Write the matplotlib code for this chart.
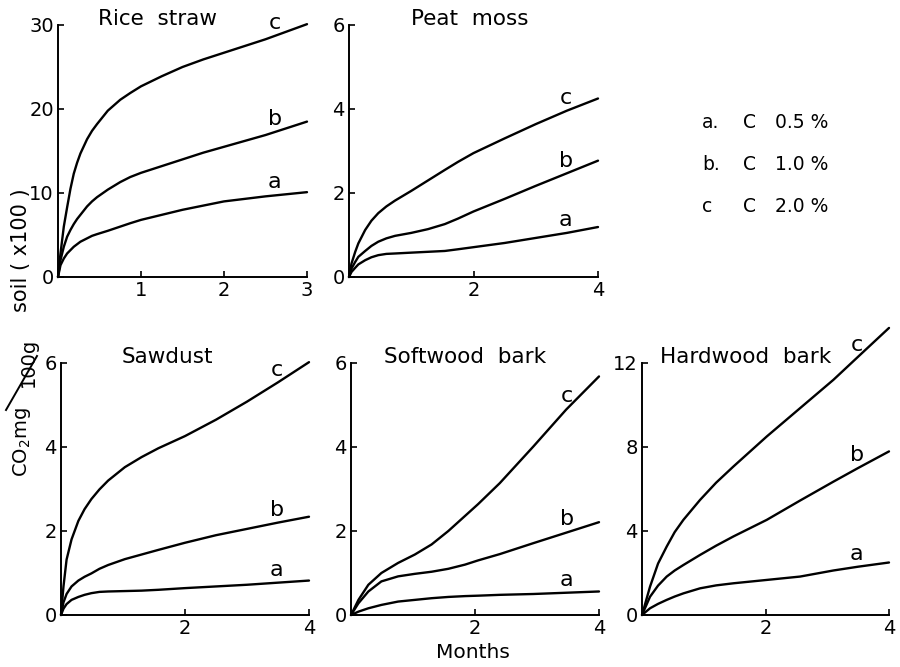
import numpy as np
import matplotlib
matplotlib.use("Agg")
import matplotlib.pyplot as plt
from matplotlib.lines import Line2D

plt.rcParams['font.family'] = ['DejaVu Sans']

# ---------------- data ----------------
rice_x = [0, 0.03, 0.07, 0.11, 0.15, 0.19, 0.23, 0.27, 0.35, 0.41, 0.47, 0.6, 0.75, 0.87, 1.0, 1.25, 1.5, 1.75, 2.0, 2.5, 3.0]
rice_c = [0, 2.8, 6.0, 8.3, 10.5, 12.3, 13.6, 14.7, 16.4, 17.4, 18.2, 19.8, 21.1, 21.9, 22.7, 23.9, 25.0, 25.9, 26.7, 28.3, 30.1]
rice_b = [0, 2.0, 3.6, 4.8, 5.6, 6.3, 6.9, 7.4, 8.4, 9.0, 9.5, 10.4, 11.3, 11.9, 12.4, 13.2, 14.0, 14.8, 15.5, 16.9, 18.5]
rice_a = [0, 1.4, 2.2, 2.8, 3.2, 3.6, 3.9, 4.2, 4.6, 4.9, 5.1, 5.5, 6.0, 6.4, 6.8, 7.4, 8.0, 8.5, 9.0, 9.6, 10.1]

peat_x = [0, 0.04, 0.1, 0.15, 0.26, 0.36, 0.47, 0.6, 0.74, 1.0, 1.27, 1.54, 1.75, 2.0, 2.5, 3.0, 3.5, 4.0]
peat_c = [0, 0.32, 0.6, 0.8, 1.12, 1.34, 1.52, 1.68, 1.82, 2.05, 2.3, 2.55, 2.74, 2.95, 3.3, 3.64, 3.96, 4.25]
peat_b = [0, 0.2, 0.36, 0.48, 0.62, 0.74, 0.84, 0.92, 0.98, 1.05, 1.14, 1.26, 1.39, 1.56, 1.86, 2.17, 2.47, 2.77]
peat_a = [0, 0.12, 0.22, 0.3, 0.4, 0.47, 0.52, 0.55, 0.56, 0.58, 0.6, 0.62, 0.66, 0.71, 0.81, 0.93, 1.05, 1.19]

saw_x = [0, 0.04, 0.09, 0.17, 0.28, 0.38, 0.49, 0.62, 0.76, 1.03, 1.3, 1.57, 2.0, 2.5, 3.0, 3.5, 4.0]
saw_c = [0, 0.68, 1.32, 1.8, 2.24, 2.52, 2.76, 2.99, 3.2, 3.52, 3.76, 3.97, 4.26, 4.65, 5.08, 5.54, 6.02]
saw_b = [0, 0.3, 0.5, 0.68, 0.82, 0.91, 0.99, 1.1, 1.19, 1.33, 1.44, 1.55, 1.72, 1.9, 2.05, 2.2, 2.34]
saw_a = [0, 0.15, 0.26, 0.36, 0.43, 0.48, 0.52, 0.55, 0.56, 0.57, 0.58, 0.6, 0.64, 0.68, 0.72, 0.77, 0.82]

soft_x = [0, 0.12, 0.28, 0.49, 0.76, 1.03, 1.3, 1.57, 1.84, 2.05, 2.4, 2.94, 3.47, 4.0]
soft_c = [0, 0.36, 0.72, 1.0, 1.24, 1.44, 1.68, 2.0, 2.36, 2.64, 3.14, 4.01, 4.89, 5.68]
soft_b = [0, 0.28, 0.56, 0.8, 0.92, 0.98, 1.03, 1.1, 1.2, 1.3, 1.45, 1.71, 1.96, 2.21]
soft_a = [0, 0.08, 0.16, 0.24, 0.32, 0.36, 0.4, 0.43, 0.45, 0.46, 0.48, 0.5, 0.53, 0.56]

hard_x = [0, 0.13, 0.26, 0.4, 0.53, 0.67, 0.94, 1.2, 1.48, 2.02, 2.56, 3.1, 3.5, 4.0]
hard_c = [0, 1.35, 2.45, 3.26, 3.95, 4.53, 5.48, 6.3, 7.07, 8.5, 9.85, 11.2, 12.3, 13.67]
hard_b = [0, 0.87, 1.4, 1.83, 2.12, 2.38, 2.86, 3.3, 3.74, 4.53, 5.45, 6.35, 7.0, 7.79]
hard_a = [0, 0.32, 0.53, 0.72, 0.88, 1.03, 1.27, 1.41, 1.51, 1.67, 1.83, 2.12, 2.3, 2.5]

titles = ["Rice  straw", "Peat  moss", "Sawdust", "Softwood  bark", "Hardwood  bark"]
xticks = [[1, 2, 3], [2, 4], [2, 4], [2, 4], [2, 4]]
yticks = [[0, 10, 20, 30], [0, 2, 4, 6], [0, 2, 4, 6], [0, 2, 4, 6], [0, 4, 8, 12]]
xmax = [3, 4, 4, 4, 4]
series_names = ["a", "b", "c"]
legend_letters = ["a.", "b.", "c"]
legend_values = ["0.5 %", "1.0 %", "2.0 %"]

panels = [
    (rice_x, [rice_a, rice_b, rice_c]),
    (peat_x, [peat_a, peat_b, peat_c]),
    (saw_x, [saw_a, saw_b, saw_c]),
    (soft_x, [soft_a, soft_b, soft_c]),
    (hard_x, [hard_a, hard_b, hard_c]),
]

# ---------------- layout ----------------
W, H = 900, 667
fig = plt.figure(figsize=(9, 6.67), dpi=100)

def px_rect(left, right, top, bottom):
    return [left / W, 1 - bottom / H, (right - left) / W, (bottom - top) / H]

rects = [
    px_rect(58, 307, 25, 277),
    px_rect(349, 598, 25, 277),
    px_rect(61, 309, 363, 615),
    px_rect(351, 599, 363, 615),
    px_rect(642, 889, 363, 615),
]
title_xfrac = [0.40, 0.486, 0.427, 0.46, 0.42]
label_xfrac = 0.87  # where the a/b/c letters sit, as fraction of x range

FS = 14
LW = 1.7

for i, (rect, (xs, ys)) in enumerate(zip(rects, panels)):
    ax = fig.add_axes(rect)
    ax.set_xlim(0, xmax[i])
    ax.set_ylim(0, yticks[i][-1])
    for s in ["top", "right"]:
        ax.spines[s].set_visible(False)
    for s in ["left", "bottom"]:
        ax.spines[s].set_linewidth(1.4)
    ax.set_xticks(xticks[i])
    ax.set_yticks(yticks[i])
    ax.tick_params(direction="in", length=4, width=1.2, labelsize=FS, pad=3)
    for name, yv in zip(series_names, ys):
        ax.plot(xs, yv, color="black", lw=LW, clip_on=False,
                solid_joinstyle="round", solid_capstyle="round")
        lx = label_xfrac * xmax[i]
        ly = np.interp(lx, xs, yv)
        ax.annotate(name, (lx, ly), xytext=(0, 9.5), textcoords="offset points",
                    ha="center", va="center", fontsize=FS + 2,
                    annotation_clip=False)
    ax.text(title_xfrac[i], 1.0, titles[i], transform=ax.transAxes,
            ha="center", va="baseline", fontsize=FS + 1.5)

# ---------------- y label pieces ----------------
def fx(px):
    return px / W

def fy(py):
    return 1 - py / H

fig.text(fx(21), fy(250), "soil ( x100 )", rotation=90, ha="center", va="center", fontsize=FS + 1)
fig.text(fx(22), fy(442), "CO$_2$mg", rotation=90, ha="center", va="center", fontsize=FS)
fig.text(fx(28), fy(362), "100g", rotation=90, ha="center", va="center", fontsize=FS)
fig.add_artist(Line2D([fx(6), fx(37)], [fy(410), fy(356)], color="black", lw=1.4,
                      transform=fig.transFigure))

# ---------------- x label ----------------
fig.text(fx(473), fy(653), "Months", ha="center", va="center", fontsize=FS + 0.5)

# ---------------- legend text ----------------
for row, (lt, val) in enumerate(zip(legend_letters, legend_values)):
    yy = fy(123 + 42 * row)
    fig.text(fx(702), yy, lt, ha="left", va="center", fontsize=FS - 0.5)
    fig.text(fx(743), yy, "C", ha="left", va="center", fontsize=FS - 0.5)
    fig.text(fx(775), yy, val, ha="left", va="center", fontsize=FS - 0.5)

fig.savefig("out.png", dpi=100, facecolor="white")
